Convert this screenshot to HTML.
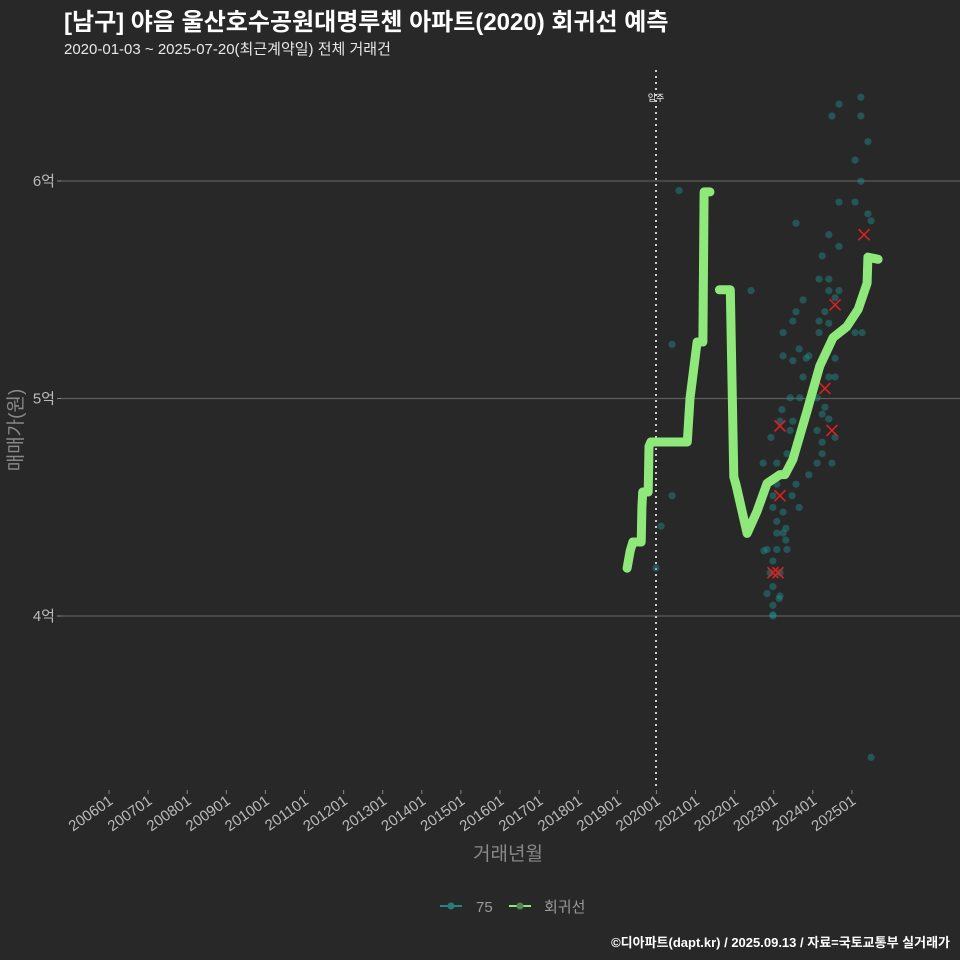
<!DOCTYPE html>
<html><head><meta charset="utf-8">
<style>
html,body{margin:0;padding:0;background:#282828;}
svg{display:block;font-family:"Liberation Sans","Noto Sans CJK KR",sans-serif;}
</style></head>
<body>
<svg id="chart" width="960" height="960" viewBox="0 0 960 960">
<rect x="0" y="0" width="960" height="960" fill="#282828"/>
<text x="64" y="30" fill="#ffffff" font-size="24" font-weight="bold">[남구] 야음 울산호수공원대명루첸 아파트(2020) 회귀선 예측</text>
<text x="64" y="54" fill="#e8e8e8" font-size="15">2020-01-03 ~ 2025-07-20(최근계약일) 전체 거래건</text>
<g id="grid"></g>
<g id="yaxis"></g>
<g id="xaxis"></g>
<line x1="656" y1="70" x2="656" y2="790" stroke="#cccccc" stroke-width="2" stroke-dasharray="2,4"/>
<text x="656" y="101" fill="#ffffff" font-size="9" text-anchor="middle">입주</text>
<g id="points"></g>
<g id="crosses"></g>
<g id="line"></g>
<text x="508" y="860" fill="#888888" font-size="19" text-anchor="middle">거래년월</text>
<text transform="translate(22,430) rotate(-90)" fill="#888888" font-size="19" text-anchor="middle">매매가(원)</text>
<g>
<g>
<line x1="440" y1="906" x2="462" y2="906" stroke="#1f8585" stroke-width="2"/>
<circle cx="451" cy="906" r="3.5" fill="#2a7a7a"/>
<text x="476" y="912" fill="#999999" font-size="15">75</text>
</g>
<g>
<line x1="509" y1="906" x2="531" y2="906" stroke="#8ee87a" stroke-width="2"/>
<circle cx="520" cy="906" r="3.5" fill="#4f8a55"/>
<text x="544" y="912" fill="#999999" font-size="15">회귀선</text>
</g>
</g>
<text x="950" y="947" fill="#ffffff" font-size="13" font-weight="bold" text-anchor="end">©디아파트(dapt.kr) / 2025.09.13 / 자료=국토교통부 실거래가</text>
</svg>
<script>
const yTicks=[4,5,6];
const yTickLabels=["4억","5억","6억"];
const xTickYears=[2006,2007,2008,2009,2010,2011,2012,2013,2014,2015,2016,2017,2018,2019,2020,2021,2022,2023,2024,2025];
const xTickLabels=["200601","200701","200801","200901","201001","201101","201201","201301","201401","201501","201601","201701","201801","201901","202001","202101","202201","202301","202401","202501"];
const lineYears=[2019.25,2019.33,2019.40,2019.61,2019.63,2019.65,2019.79,2019.81,2019.86,2020.79,2020.86,2021.04,2021.19,2021.22,2021.37,2021.45,2021.61,2021.89,2021.98,2022.04,2022.32,2022.57,2022.83,2023.16,2023.29,2023.49,2023.85,2024.18,2024.52,2024.87,2025.16,2025.39,2025.41,2025.67];
const lineValues=[4.22,4.30,4.34,4.34,4.50,4.57,4.57,4.78,4.80,4.80,5.00,5.26,5.26,5.95,5.95,null,5.50,5.50,4.64,4.60,4.38,4.48,4.61,4.65,4.65,4.72,4.94,5.15,5.28,5.33,5.41,5.53,5.65,5.64];
const pointYears=[2020.58,2020.40,2020.40,2020.12,2019.99,2023.57,2022.42,2024.67,2024.49,2025.23,2025.23,2025.41,2025.08,2025.23,2024.67,2025.08,2025.41,2025.49,2024.41,2024.67,2024.24,2024.16,2024.41,2024.41,2024.67,2024.57,2023.75,2023.57,2024.31,2023.49,2024.16,2024.41,2023.24,2024.16,2025.08,2025.26,2023.65,2023.24,2023.49,2023.90,2023.83,2024.57,2023.75,2024.57,2024.41,2023.42,2023.67,2024.11,2024.31,2023.21,2024.24,2023.16,2023.49,2024.41,2022.93,2023.42,2023.34,2024.11,2024.57,2024.24,2024.24,2022.73,2023.08,2024.11,2024.49,2023.90,2023.08,2023.57,2022.98,2023.47,2023.65,2022.98,2023.24,2023.08,2023.31,2023.08,2023.24,2023.31,2022.83,2023.08,2023.34,2022.98,2022.91,2023.16,2022.98,2022.83,2023.16,2022.98,2022.98,2022.98,2023.14,2025.49,2022.75];
const pointValues=[5.956,5.249,4.553,4.413,4.221,5.806,5.496,6.353,6.299,6.385,6.299,6.181,6.096,5.999,5.903,5.903,5.849,5.817,5.753,5.699,5.656,5.549,5.549,5.496,5.496,5.463,5.453,5.399,5.399,5.356,5.356,5.346,5.303,5.303,5.303,5.303,5.228,5.196,5.174,5.196,5.185,5.185,5.099,5.099,5.099,5.003,5.003,5.003,4.960,4.949,4.928,4.896,4.896,4.906,4.821,4.853,4.746,4.853,4.821,4.799,4.746,4.703,4.703,4.703,4.703,4.649,4.606,4.606,4.553,4.553,4.499,4.499,4.478,4.435,4.403,4.381,4.381,4.349,4.306,4.306,4.306,4.253,4.199,4.199,4.135,4.103,4.092,4.049,4.006,4.00,4.08,3.35,4.30];
const crossYears=[2023.16,2023.16,2022.98,2023.11,2024.31,2024.49,2024.57,2025.31];
const crossValues=[4.874,4.553,4.199,4.199,5.046,4.853,5.431,5.753];

const NS="http://www.w3.org/2000/svg";
function xScale(t){return 109+(t-2006)*39.1;}
function yScale(v){return 181+(6-v)*217.5;}
function mk(tag,attrs,parent){const e=document.createElementNS(NS,tag);for(const k in attrs)e.setAttribute(k,attrs[k]);parent.appendChild(e);return e;}

const grid=document.getElementById('grid'),yaxis=document.getElementById('yaxis'),xaxis=document.getElementById('xaxis');
yTicks.forEach((v,i)=>{
  const y=yScale(v);
  const g=mk('line',{x1:60,x2:960,y1:y,y2:y,stroke:'#5c5c5c','stroke-width':1.3},grid);
  
  
  const t=mk('line',{x1:57,x2:61,y1:y,y2:y,stroke:'#888','stroke-width':1},yaxis);
  
  
  const l=mk('text',{x:55,y:y+5,fill:'#bbbbbb','font-size':15,'text-anchor':'end'},yaxis);
  l.textContent=yTickLabels[i];
  
  
});
xTickYears.forEach((yr,i)=>{
  const x=xScale(yr);
  const t=mk('line',{x1:x,x2:x,y1:790,y2:794,stroke:'#888','stroke-width':1},xaxis);
  
  
  const l=mk('text',{x:0,y:0,fill:'#bbbbbb','font-size':15,'text-anchor':'end',transform:'translate('+(x+5)+',803) rotate(-35)'},xaxis);
  l.textContent=xTickLabels[i];
  
  
});
const pts=document.getElementById('points');
pointYears.forEach((t,i)=>{
  const c=mk('circle',{cx:xScale(t),cy:yScale(pointValues[i]),r:3.6,fill:'#1f8f8f','fill-opacity':0.45},pts);
  
  
});
const cr=document.getElementById('crosses');
crossYears.forEach((t,i)=>{
  const x=xScale(t),y=yScale(crossValues[i]),s=5.5;
  const p=mk('path',{d:`M${x-s},${y-s}L${x+s},${y+s}M${x-s},${y+s}L${x+s},${y-s}`,stroke:'#dd1f1f','stroke-width':1.6},cr);
  
  
});
const ln=document.getElementById('line');
let d='',pen=false;
lineYears.forEach((t,i)=>{
  const v=lineValues[i];
  if(v===null){pen=false;return;}
  d+=(pen?'L':'M')+xScale(t).toFixed(1)+','+yScale(v).toFixed(1);
  pen=true;
});
const path=mk('path',{d:d,fill:'none',stroke:'#8ee87a','stroke-width':9,'stroke-linecap':'round','stroke-linejoin':'round'},ln);


</script>
</body></html>
